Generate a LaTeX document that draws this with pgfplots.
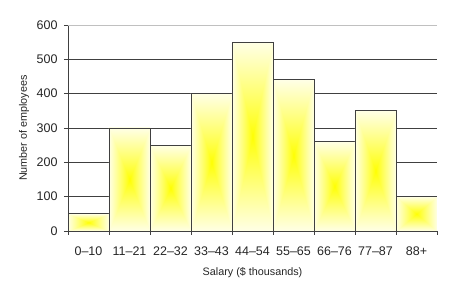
\documentclass[border=0pt]{standalone}
\usepackage{pgfplots}
\pgfplotsset{compat=1.18}
\usepackage{fontspec}
\setmainfont{Liberation Sans}

% bright yellow core fading out to pale cream towards the bar edges
\pgfdeclarefunctionalshading{barglow}{\pgfpoint{-50bp}{-50bp}}{\pgfpoint{50bp}{50bp}}{}{abs exch abs 2 copy lt {exch} if pop 25 div dup 1 gt {pop 1} if 0.9 exp 0.9 mul 1 exch 1 exch}

\definecolor{gridc}{RGB}{64,64,64}
\definecolor{framec}{RGB}{192,192,192}

\pgfplotsset{
  salbar/.style={ybar, bar width=1, bar shift=0pt, draw=gridc, line width=0.9pt, shading=barglow},
}

\begin{document}
\begin{tikzpicture}
\useasboundingbox (0,0) rectangle (451pt,296pt);
\begin{axis}[
  at={(68pt,65pt)}, anchor=south west,
  scale only axis, width=369pt, height=206pt,
  xmin=-0.5, xmax=8.5, ymin=0, ymax=600,
  axis x line*=bottom, axis y line*=left,
  axis line style={draw=gridc, line width=0.9pt, -},
  xtick={0,...,8},
  xticklabels={0--10,11--21,22--32,33--43,44--54,55--65,66--76,77--87,88+},
  minor xtick={-0.5,0.5,...,8.5},
  major x tick style={draw=none},
  minor tick length=4pt,
  ytick={0,100,...,600},
  major tick length=4pt,
  tick align=outside,
  tick style={gridc, line width=0.9pt},
  ymajorgrids,
  grid style={gridc, line width=0.9pt},
  tick label style={font=\fontsize{12.5}{14}\selectfont, text=black!85},
  xticklabel style={yshift=-8pt},
  yticklabel style={xshift=-3pt},
  /pgf/number format/assume math mode=true,
  xlabel={Salary (\$ thousands)},
  ylabel={Number of employees},
  label style={font=\fontsize{10.8}{13}\selectfont, text=black!85},
  xlabel style={at={(axis description cs:0.5,-0.2)}, anchor=center},
  ylabel style={at={(axis description cs:-0.119,0.5)}, anchor=center},
]
\addplot[salbar] coordinates {(0,50)};
\addplot[salbar] coordinates {(1,300)};
\addplot[salbar] coordinates {(2,250)};
\addplot[salbar] coordinates {(3,400)};
\addplot[salbar] coordinates {(4,550)};
\addplot[salbar] coordinates {(5,440)};
\addplot[salbar] coordinates {(6,260)};
\addplot[salbar] coordinates {(7,350)};
\addplot[salbar] coordinates {(8,100)};
% light frame along the top and right edges
\draw[framec, line width=0.9pt] (rel axis cs:0,1) -- (rel axis cs:1,1) -- (rel axis cs:1,0);
\end{axis}
\end{tikzpicture}
\end{document}
